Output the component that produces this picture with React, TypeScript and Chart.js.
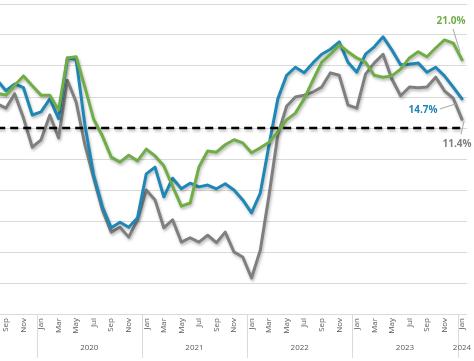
import React, { useEffect, useRef } from 'react';
import { Chart, registerables } from 'chart.js';

Chart.register(...registerables);

// Months are counted relative to Jan 2020 (= 0). Series start Aug 2019.
const MONTH_NAMES = ['Jan', 'Feb', 'Mar', 'Apr', 'May', 'Jun', 'Jul', 'Aug', 'Sep', 'Oct', 'Nov', 'Dec'];
const YEARS = ['2020', '2021', '2022', '2023', '2024'];
const FIRST_MONTH = -5; // Aug 2019

// Aug 2019 .. Jan 2024 (54 months), percent
const GREEN_VALUES = [
  15.6, 15.3, 16.9, 18.4, 16.8,
  15.3, 15.3, 12.9, 21.3, 21.5, 16.6, 11.4, 8.7, 5.3, 4.5, 5.6, 4.7,
  6.6, 5.5, 3.9, 0.6, -2.6, -2.1, 3.7, 6.3, 6.1, 7.3, 8.1, 7.6,
  6.0, 6.8, 7.7, 9.4, 11.3, 12.4, 14.7, 17.7, 20.6, 21.9, 23.4, 22.3,
  21.3, 20.6, 18.5, 18.2, 18.4, 19.5, 21.3, 22.3, 21.5, 22.9, 24.2, 23.7,
  21.0,
];
const BLUE_VALUES = [
  17.7, 16.0, 17.1, 16.5, 12.1,
  12.6, 14.7, 11.5, 21.3, 21.1, 10.5, 2.4, -2.7, -6.1, -5.2, -6.0, -4.5,
  2.6, 3.7, -1.1, 1.9, 0.2, 1.1, 0.5, 0.8, 0.2, 1.0, 0.0, -1.6,
  -3.7, -0.5, 7.3, 14.7, 18.5, 19.8, 18.9, 20.5, 21.9, 22.7, 23.9, 20.6,
  19.0, 21.9, 23.1, 24.7, 22.6, 20.2, 20.3, 20.5, 19.0, 19.8, 18.4, 16.6,
  14.7,
];
const GRAY_VALUES = [
  13.9, 13.2, 15.5, 11.6, 6.9,
  8.1, 12.1, 8.4, 17.7, 14.2, 7.3, 1.9, -3.2, -6.8, -6.0, -7.6, -4.8,
  0.0, -1.6, -6.1, -4.8, -8.4, -7.7, -8.4, -7.3, -8.5, -6.8, -10.0, -10.8,
  -14.2, -9.7, -0.8, 8.9, 13.5, 15.0, 15.3, 15.8, 16.6, 18.9, 18.5, 13.7,
  13.2, 18.7, 20.5, 21.9, 17.9, 15.2, 16.6, 16.5, 16.6, 18.2, 16.0, 14.8,
  11.4,
];
const THRESHOLD = 10;

const Y_MIN = -20;
const Y_MAX = 30;
const Y_STEP = 5;
const X_MIN = -4.68;
const X_MAX = 48.57;

const COLOR_GREEN = '#70AD47';
const COLOR_BLUE = '#1F87B6';
const COLOR_GRAY = '#7F7F7F';
const TEXT_COLOR = '#595959';
const GRID_COLOR = '#DADADA';
const FONT = "'Open Sans', 'Noto Sans', sans-serif";

const toPoints = (vals: number[]) => vals.map((v, i) => ({ x: FIRST_MONTH + i, y: v }));
const lastMonth = FIRST_MONTH + GREEN_VALUES.length - 1;

const shadowPlugin = {
  id: 'lineShadow',
  beforeDatasetsDraw(chart: any) {
    const c = chart.ctx;
    c.save();
    c.shadowColor = 'rgba(0,0,0,0.28)';
    c.shadowBlur = 3;
    c.shadowOffsetX = 1;
    c.shadowOffsetY = 2;
  },
  afterDatasetsDraw(chart: any) {
    chart.ctx.restore();
  },
};

const yearAxisPlugin = {
  id: 'yearAxis',
  afterDraw(chart: any) {
    const { ctx, chartArea } = chart;
    const xs = chart.scales.x;
    ctx.save();
    ctx.strokeStyle = GRID_COLOR;
    ctx.lineWidth = 1;
    ctx.fillStyle = TEXT_COLOR;
    ctx.font = `8px ${FONT}`;
    ctx.textAlign = 'center';
    ctx.textBaseline = 'middle';
    YEARS.forEach((yr, k) => {
      const start = k * 12 - 0.5;
      const end = Math.min(start + 12, lastMonth + 0.5);
      const px = Math.round(xs.getPixelForValue(start)) + 0.5;
      ctx.beginPath();
      ctx.moveTo(px, chartArea.bottom);
      ctx.lineTo(px, chartArea.bottom + 44);
      ctx.stroke();
      const cx = xs.getPixelForValue((start + end) / 2);
      ctx.fillText(yr, cx, chartArea.bottom + 34);
    });
    ctx.restore();
  },
};

const endLabelPlugin = {
  id: 'endLabels',
  afterDraw(chart: any) {
    const { ctx } = chart;
    const specs = [
      { ds: 1, color: COLOR_GREEN, tx: -11, ty: -39, l1: [-9, -31], l2: [-2, -8] },
      { ds: 2, color: COLOR_BLUE, tx: -39, ty: 11, l1: [-22, 10], l2: [-6, 5] },
      { ds: 3, color: COLOR_GRAY, tx: -5, ty: 25, l1: [2, 2], l2: [-1, 15] },
    ];
    ctx.save();
    specs.forEach((s) => {
      const meta = chart.getDatasetMeta(s.ds);
      const pts = meta.data;
      const el = pts[pts.length - 1];
      const raw = chart.data.datasets[s.ds].data[pts.length - 1] as any;
      const x = el.x;
      const y = el.y;
      ctx.strokeStyle = '#A6A6A6';
      ctx.lineWidth = 1;
      ctx.beginPath();
      ctx.moveTo(x + s.l1[0], y + s.l1[1]);
      ctx.lineTo(x + s.l2[0], y + s.l2[1]);
      ctx.stroke();
      ctx.fillStyle = s.color;
      ctx.font = `bold 10px ${FONT}`;
      ctx.textAlign = 'center';
      ctx.textBaseline = 'middle';
      ctx.fillText(`${raw.y.toFixed(1)}%`, x + s.tx, y + s.ty);
    });
    ctx.restore();
  },
};

export default function App() {
  const canvasRef = useRef<HTMLCanvasElement | null>(null);

  useEffect(() => {
    if (!canvasRef.current) return;
    const lineDefaults = {
      pointRadius: 0,
      pointHoverRadius: 0,
      borderWidth: 3,
      tension: 0,
      borderJoinStyle: 'round' as const,
      borderCapStyle: 'round' as const,
      fill: false,
    };
    const chart = new Chart(canvasRef.current, {
      type: 'line',
      data: {
        datasets: [
          {
            label: 'Threshold',
            data: [
              { x: FIRST_MONTH, y: THRESHOLD },
              { x: lastMonth, y: THRESHOLD },
            ],
            borderColor: '#000000',
            borderWidth: 2.5,
            borderDash: [8, 5],
            pointRadius: 0,
            fill: false,
            order: 0,
          },
          { label: 'Green', data: toPoints(GREEN_VALUES), borderColor: COLOR_GREEN, ...lineDefaults, order: 1 },
          { label: 'Blue', data: toPoints(BLUE_VALUES), borderColor: COLOR_BLUE, ...lineDefaults, order: 2 },
          { label: 'Gray', data: toPoints(GRAY_VALUES), borderColor: COLOR_GRAY, ...lineDefaults, order: 3 },
        ],
      },
      options: {
        animation: false,
        responsive: false,
        devicePixelRatio: 1,
        layout: { padding: { left: 0, right: 7, top: 4, bottom: 0 } },
        plugins: {
          legend: { display: false },
          tooltip: { enabled: false },
        },
        scales: {
          x: {
            type: 'linear',
            min: X_MIN,
            max: X_MAX,
            grid: { display: false, drawTicks: false },
            border: { display: false },
            afterBuildTicks: (scale: any) => {
              const ticks = [];
              for (let v = -4; v <= lastMonth; v += 2) ticks.push({ value: v });
              scale.ticks = ticks;
            },
            afterFit: (scale: any) => {
              scale.height = 47;
              scale.paddingLeft = 0;
              scale.paddingRight = 0;
            },
            ticks: {
              autoSkip: false,
              minRotation: 90,
              maxRotation: 90,
              padding: 4,
              color: TEXT_COLOR,
              font: { family: FONT, size: 8 },
              callback: (value: any) => MONTH_NAMES[((Number(value) % 12) + 12) % 12],
            },
          },
          y: {
            min: Y_MIN,
            max: Y_MAX,
            grid: { color: GRID_COLOR, lineWidth: 1, drawTicks: false },
            border: { display: false },
            ticks: { display: false, stepSize: Y_STEP },
            afterFit: (scale: any) => {
              scale.width = 0;
            },
          },
        },
      },
      plugins: [shadowPlugin, yearAxisPlugin, endLabelPlugin],
    });
    return () => chart.destroy();
  }, []);

  return (
    <div style={{ position: 'absolute', left: 0, top: 0, width: 474, height: 361, background: '#fff' }}>
      <canvas ref={canvasRef} width={474} height={361} />
    </div>
  );
}
